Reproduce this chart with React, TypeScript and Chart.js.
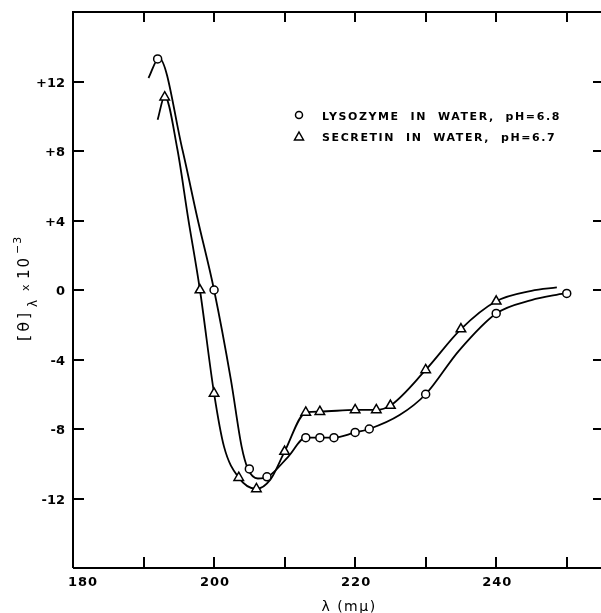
import React, { useEffect, useRef } from 'react';
import { Chart, registerables } from 'chart.js';

Chart.register(...registerables);

// Measured points (markers)
const lysX = [192, 200, 205, 207.5, 213, 215, 217, 220, 222, 230, 240, 250];
const lysY = [13.3, 0, -10.3, -10.75, -8.5, -8.5, -8.5, -8.2, -8.0, -6.0, -1.35, -0.2];
const secX = [193, 198, 200, 203.5, 206, 210, 213, 215, 220, 223, 225, 230, 235, 240];
const secY = [11.1, 0, -5.95, -10.8, -11.45, -9.3, -7.05, -7.0, -6.9, -6.9, -6.65, -4.6, -2.25, -0.65];

// Hand-drawn smooth curves
const lysCurveX = [190.7, 192.2, 195.5, 197.6, 200, 202.4, 203.9, 204.8, 206.2, 207.6, 210.5, 213, 215, 217, 220, 222, 226.3, 230, 234.7, 240, 245, 249.6];
const lysCurveY = [12.2, 13.35, 8.1, 4.2, 0, -5.2, -9.0, -10.3, -10.85, -10.75, -9.6, -8.5, -8.5, -8.5, -8.2, -8.0, -7.2, -6.0, -3.5, -1.35, -0.58, -0.2];
const secCurveX = [192, 193, 194.8, 196.3, 198, 200, 201.4, 203.5, 206, 208, 210, 213, 215, 220, 223, 225, 230, 235, 240, 245, 248.6];
const secCurveY = [9.8, 11.15, 8.1, 4.2, 0, -5.95, -9.0, -10.8, -11.45, -10.9, -9.3, -7.05, -7.0, -6.9, -6.9, -6.65, -4.6, -2.25, -0.65, -0.05, 0.15];

const yTickValues = [-12, -8, -4, 0, 4, 8, 12];
const xTickValues = [190, 200, 210, 220, 230, 240, 250];
const xLabelValues = [180, 200, 220, 240];
const legendLabels = ['LYSOZYME  IN  WATER,  pH=6.8', 'SECRETIN  IN  WATER,  pH=6.7'];
const xTitle = 'λ (mμ)';

const toPts = (xs: number[], ys: number[]) => xs.map((x, i) => ({ x, y: ys[i] }));
const fmtY = (n: number) => (n > 0 ? '+' + n : String(n));

export default function App() {
  const ref = useRef<HTMLCanvasElement>(null);
  useEffect(() => {
    const canvas = ref.current!;
    const framePlugin = {
      id: 'frame',
      afterDraw(chart: any) {
        const { ctx, chartArea } = chart;
        const { left, right, top, bottom } = chartArea;
        const xs = chart.scales.x;
        const ys = chart.scales.y;
        ctx.save();
        ctx.strokeStyle = '#000';
        ctx.fillStyle = '#000';
        ctx.lineWidth = 2;
        ctx.beginPath();
        ctx.moveTo(left, bottom);
        ctx.lineTo(left, top);
        ctx.lineTo(right, top);
        ctx.lineTo(right, bottom);
        ctx.lineTo(left, bottom);
        ctx.stroke();
        // inward ticks
        ctx.beginPath();
        yTickValues.forEach((v) => {
          const p = Math.round(ys.getPixelForValue(v));
          ctx.moveTo(left, p);
          ctx.lineTo(left + 11, p);
          ctx.moveTo(right - 9, p);
          ctx.lineTo(right, p);
        });
        xTickValues.forEach((v) => {
          const p = Math.round(xs.getPixelForValue(v));
          ctx.moveTo(p, bottom);
          ctx.lineTo(p, bottom - 11);
          ctx.moveTo(p, top);
          ctx.lineTo(p, top + 10);
        });
        ctx.stroke();

        // tick labels
        ctx.font = 'bold 13px "DejaVu Sans"';
        ctx.textBaseline = 'alphabetic';
        ctx.textAlign = 'right';
        (ctx as any).letterSpacing = '0px';
        yTickValues.forEach((v) => {
          const p = ys.getPixelForValue(v);
          ctx.fillText(fmtY(v), left - 8, p + 5);
        });
        ctx.textAlign = 'center';
        (ctx as any).letterSpacing = '1px';
        xLabelValues.forEach((v) => {
          let p = xs.getPixelForValue(v);
          if (v === xs.min) p += 9;
          ctx.fillText(String(v), p + 1, bottom + 18);
        });

        // legend
        const lx = 299;
        ctx.lineWidth = 1.5;
        ctx.fillStyle = '#fff';
        ctx.beginPath();
        ctx.arc(lx, 115, 3.5, 0, Math.PI * 2);
        ctx.fill();
        ctx.stroke();
        ctx.beginPath();
        ctx.moveTo(lx, 132);
        ctx.lineTo(lx + 4.5, 140);
        ctx.lineTo(lx - 4.5, 140);
        ctx.closePath();
        ctx.fill();
        ctx.stroke();
        ctx.fillStyle = '#000';
        ctx.font = 'bold 11px "DejaVu Sans"';
        (ctx as any).letterSpacing = '1.6px';
        ctx.textAlign = 'left';
        ctx.fillText(legendLabels[0], 322, 120);
        ctx.fillText(legendLabels[1], 322, 141);

        // x title
        ctx.font = '14px "DejaVu Sans"';
        (ctx as any).letterSpacing = '1.5px';
        ctx.textAlign = 'center';
        ctx.fillText(xTitle, 349, 611);

        // y title (rotated)
        ctx.translate(29, 341);
        ctx.rotate(-Math.PI / 2);
        ctx.textAlign = 'left';
        ctx.font = '16px "DejaVu Sans"';
        (ctx as any).letterSpacing = '3px';
        ctx.fillText('[θ]', 0, 0);
        (ctx as any).letterSpacing = '0px';
        ctx.font = '12px "DejaVu Sans"';
        ctx.fillText('λ', 34, 8);
        ctx.font = '11px "DejaVu Sans"';
        ctx.fillText('x', 50, 0);
        ctx.font = '15px "DejaVu Sans"';
        (ctx as any).letterSpacing = '2px';
        ctx.fillText('10', 62, 0);
        (ctx as any).letterSpacing = '1px';
        ctx.font = '11px "DejaVu Sans"';
        ctx.fillText('−3', 87, -8);
        ctx.restore();
      },
    };

    const chart = new Chart(canvas, {
      type: 'scatter',
      data: {
        datasets: [
          {
            label: 'lysCurve',
            data: toPts(lysCurveX, lysCurveY),
            showLine: true,
            pointRadius: 0,
            borderColor: '#000',
            borderWidth: 1.8,
            cubicInterpolationMode: 'monotone',
            tension: 0.4,
            order: 3,
          },
          {
            label: 'secCurve',
            data: toPts(secCurveX, secCurveY),
            showLine: true,
            pointRadius: 0,
            borderColor: '#000',
            borderWidth: 1.8,
            cubicInterpolationMode: 'monotone',
            tension: 0.4,
            order: 3,
          },
          {
            label: 'Lysozyme in water, pH=6.8',
            data: toPts(lysX, lysY),
            showLine: false,
            pointStyle: 'circle',
            pointRadius: 4,
            pointBackgroundColor: '#fff',
            pointBorderColor: '#000',
            pointBorderWidth: 1.5,
            order: 1,
          },
          {
            label: 'Secretin in water, pH=6.7',
            data: toPts(secX, secY),
            showLine: false,
            pointStyle: 'triangle',
            pointRadius: 5.5,
            pointBackgroundColor: '#fff',
            pointBorderColor: '#000',
            pointBorderWidth: 1.5,
            order: 1,
          },
        ] as any,
      },
      options: {
        animation: false,
        responsive: false,
        devicePixelRatio: 1,
        layout: { padding: { top: 12, right: 2, left: 0, bottom: 0 } },
        plugins: { legend: { display: false }, tooltip: { enabled: false } },
        scales: {
          x: {
            type: 'linear',
            min: 180,
            max: 255,
            afterFit: (s: any) => {
              s.height = 45;
            },
            grid: { display: false, drawTicks: false },
            border: { display: false },
            ticks: { display: false, stepSize: 10 },
          },
          y: {
            type: 'linear',
            min: -16,
            max: 16,
            afterFit: (s: any) => {
              s.width = 73;
            },
            grid: { display: false, drawTicks: false },
            border: { display: false },
            ticks: { display: false, stepSize: 4 },
          },
        },
      } as any,
      plugins: [framePlugin],
    });
    return () => chart.destroy();
  }, []);
  return (
    <canvas
      ref={ref}
      width={609}
      height={613}
      style={{ position: 'fixed', left: 0, top: 0, width: 609, height: 613 }}
    />
  );
}
